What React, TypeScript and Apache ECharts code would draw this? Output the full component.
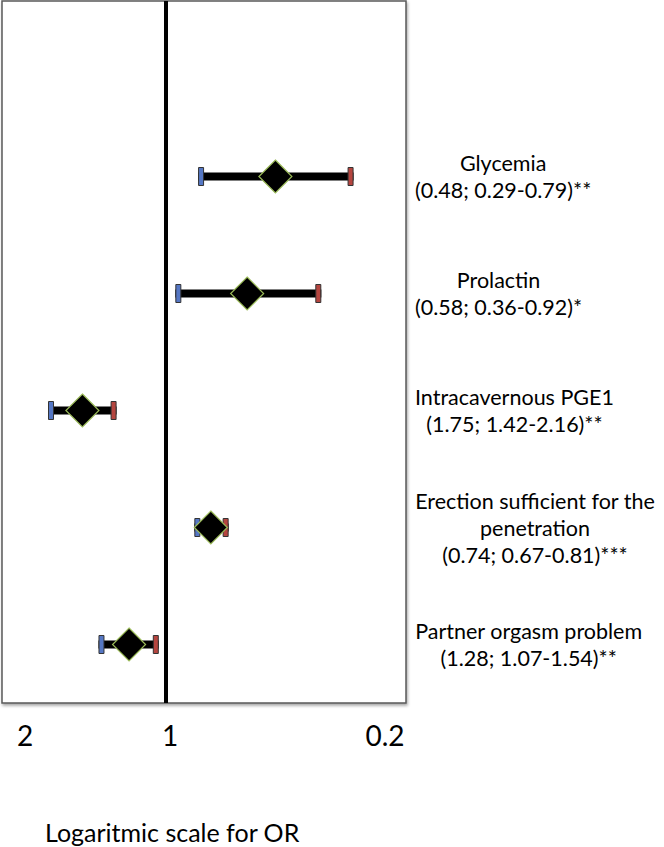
import React, { useEffect, useRef } from "react";
import * as echarts from "echarts";

const categories = [
  "Partner orgasm problem",
  "Erection sufficient for the\npenetration",
  "Intracavernous PGE1",
  "Prolactin",
  "Glycemia",
];
const statLabels = [
  "(1.28; 1.07-1.54)**",
  "(0.74; 0.67-0.81)***",
  "(1.75; 1.42-2.16)**",
  "(0.58; 0.36-0.92)*",
  "(0.48; 0.29-0.79)**",
];
const oddsRatios = [1.28, 0.74, 1.75, 0.58, 0.48];
const ciLower = [1.07, 0.67, 1.42, 0.36, 0.29];
const ciUpper = [1.54, 0.81, 2.16, 0.92, 0.79];
const tickLabels = ["2", "1", "0.2"];
const axisTitle = "Logaritmic scale for OR";

const FONT = "Lato, 'Liberation Sans', sans-serif";

export default function App() {
  const ref = useRef<HTMLDivElement>(null);
  useEffect(() => {
    document.body.style.margin = "0";
    if (!ref.current) return;
    const chart = echarts.init(ref.current, null, { renderer: "svg" });

    const yData = categories.map((c, i) => c + "\n" + statLabels[i]).concat([""]);
    const ciData = oddsRatios.map((v, i) => [v, ciLower[i], ciUpper[i], i]);
    const orData = oddsRatios.map((v, i) => [v, i]);

    const tickPos = [25, 170, 385];

    chart.setOption({
      animation: false,
      backgroundColor: "#fff",
      grid: {
        left: 2,
        top: 1,
        width: 404,
        height: 702,
        show: true,
        borderColor: "#5a5a5a",
        borderWidth: 1.5,
        backgroundColor: "#fff",
        shadowColor: "rgba(0,0,0,0.35)",
        shadowBlur: 3,
        shadowOffsetX: 1,
        shadowOffsetY: 2,
      },
      xAxis: {
        type: "log",
        logBase: 10,
        min: 0.2,
        max: 3,
        inverse: true,
        axisLine: { show: false },
        axisTick: { show: false },
        axisLabel: { show: false },
        splitLine: { show: false },
      },
      yAxis: {
        type: "category",
        position: "right",
        data: yData,
        axisLine: { show: false },
        axisTick: { show: false },
        splitLine: { show: false },
        axisLabel: {
          margin: 9,
          align: "left",
          formatter: (v: string) =>
            v
              .split("\n")
              .map((l) => "{c|" + l + "}")
              .join("\n"),
          rich: {
            c: {
              align: "center",
              fontFamily: FONT,
              fontSize: 21.5,
              lineHeight: 27,
              color: "#000",
            },
          },
        },
      },
      graphic: [
        ...tickLabels.map((t, i) => ({
          type: "text",
          x: tickPos[i],
          y: 735,
          style: {
            text: t,
            fontFamily: FONT,
            fontSize: 28,
            fill: "#000",
            textAlign: "center",
            textVerticalAlign: "middle",
          },
        })),
        {
          type: "text",
          x: 45,
          y: 832,
          style: {
            text: axisTitle,
            fontFamily: FONT,
            fontSize: 25,
            fill: "#000",
            textAlign: "left",
            textVerticalAlign: "middle",
          },
        },
      ],
      series: [
        {
          type: "custom",
          data: ciData,
          encode: { x: 0, y: 3 },
          z: 2,
          renderItem: (params: any, api: any) => {
            const yi = api.value(3);
            const pLo = api.coord([api.value(1), yi]);
            const pHi = api.coord([api.value(2), yi]);
            const y = pLo[1];
            const xl = Math.min(pLo[0], pHi[0]);
            const xr = Math.max(pLo[0], pHi[0]);
            const capW = 5;
            const capH = 18;
            return {
              type: "group",
              children: [
                {
                  type: "rect",
                  shape: { x: xl - 3, y: y - 4, width: xr - xl + 6, height: 8 },
                  style: { fill: "#000" },
                },
                {
                  type: "rect",
                  shape: { x: xl - capW / 2, y: y - capH / 2, width: capW, height: capH },
                  style: { fill: "#5577c4", stroke: "#333", lineWidth: 1 },
                },
                {
                  type: "rect",
                  shape: { x: xr - capW / 2, y: y - capH / 2, width: capW, height: capH },
                  style: { fill: "#b5453f", stroke: "#333", lineWidth: 1 },
                },
              ],
            };
          },
        },
        {
          type: "scatter",
          data: orData,
          symbol: "diamond",
          symbolSize: 33,
          z: 3,
          itemStyle: { color: "#000", opacity: 1, borderColor: "#9bbb59", borderWidth: 1.2 },
          markLine: {
            silent: true,
            symbol: ["none", "none"],
            label: { show: false },
            lineStyle: { color: "#000", width: 4, type: "solid" },
            data: [{ xAxis: 1 }],
          },
        },
      ],
    });
    return () => chart.dispose();
  }, []);
  return <div ref={ref} style={{ width: 664, height: 847 }} />;
}
